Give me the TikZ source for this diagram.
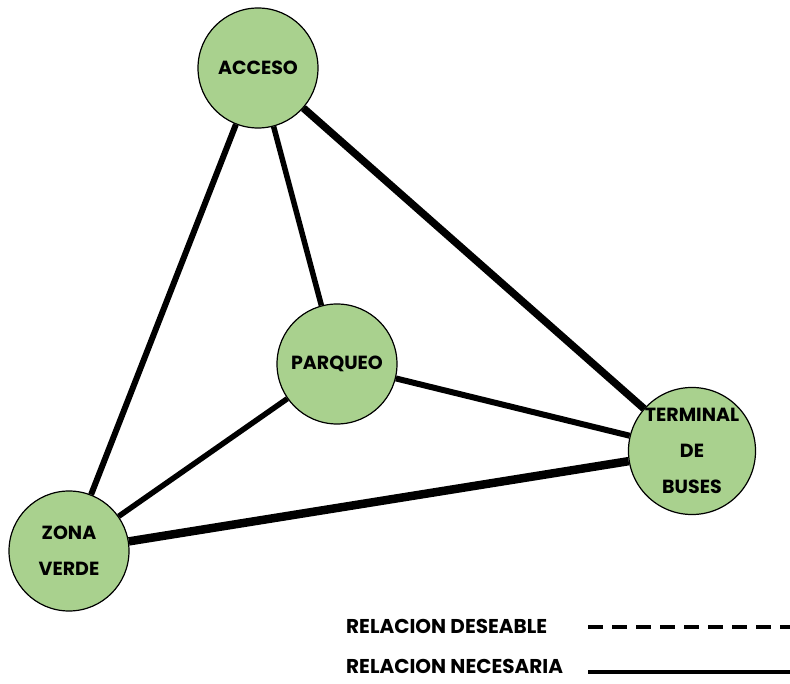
\documentclass[tikz,border=0pt]{standalone}
\usepackage{fontspec}
\setmainfont{Poppins}
\usepackage{tikz}
\definecolor{verdeclaro}{HTML}{A9D18E}

\begin{document}
\begin{tikzpicture}[x=1pt,y=1pt]
\tikzset{espacio/.style={circle,draw,line width=1.2pt,fill=verdeclaro,minimum size=120pt,inner sep=0pt,align=center,font=\bfseries\fontsize{19}{36}\selectfont}}
\tikzset{leyenda/.style={anchor=west,inner sep=0pt,font=\bfseries\fontsize{20}{24}\selectfont}}
\useasboundingbox (0,0) rectangle (790,683);
\node [espacio] (acceso) at (258,615) {ACCESO};
\node [espacio] (parqueo) at (337,319) {PARQUEO};
\node [espacio] (terminal) at (692,232) {TERMINAL\\DE\\BUSES};
\node [espacio] (zona) at (69,132) {ZONA\\VERDE};

\draw [line width=6pt] (acceso) -- (zona);
\draw [line width=5.5pt] (acceso) -- (parqueo);
\draw [line width=7.5pt] (acceso) -- (terminal);
\draw [line width=5.5pt] (parqueo) -- (zona);
\draw [line width=6pt] (parqueo) -- (terminal);
\draw [line width=8.5pt] (zona) -- (terminal);

\node [leyenda] (deseable) at (346,57) {RELACION DESEABLE};
\node [leyenda] (necesaria) at (346,17) {RELACION NECESARIA};
\coordinate (finD) at (790,56);
\coordinate (finN) at (790,11);
\draw [line width=3.5pt,dash pattern=on 15pt off 9pt] (588,56) -- (finD);
\draw [line width=4pt] (588,11) -- (finN);
\end{tikzpicture}
\end{document}
